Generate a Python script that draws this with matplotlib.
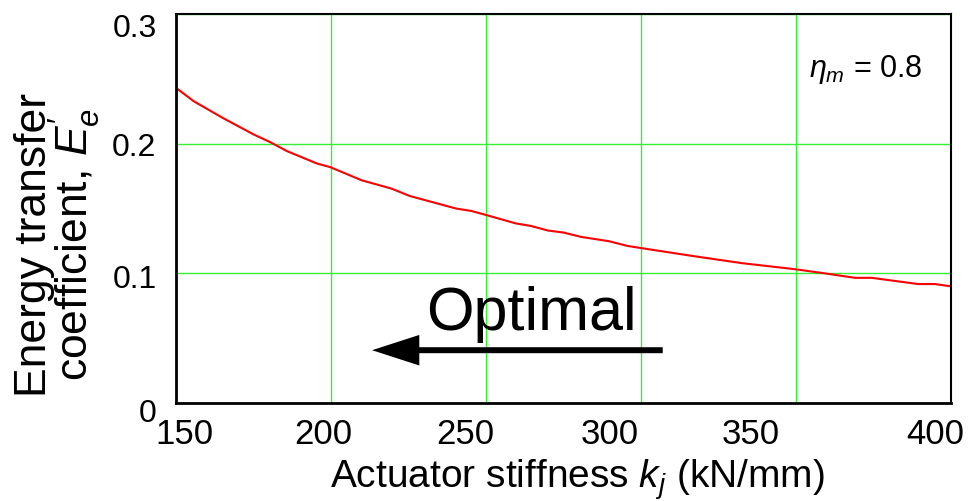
import numpy as np
import matplotlib.pyplot as plt
from matplotlib.transforms import ScaledTranslation

plt.rcParams['font.family'] = ['Liberation Sans', 'DejaVu Sans']
plt.rcParams['mathtext.fontset'] = 'custom'
plt.rcParams['mathtext.rm'] = 'Liberation Sans'
plt.rcParams['mathtext.it'] = 'Liberation Sans:italic'

# values
stiffness = [150.6, 155.7, 165.0, 175.0, 180.4, 185.8, 195.4, 199.7, 209.9, 219.5,
             225.4, 240.4, 245.2, 249.5, 259.7, 264.5, 269.9, 275.0, 280.6, 289.7,
             295.6, 299.6, 316.5, 332.6, 349.5, 359.4, 369.0, 374.4, 389.4, 394.8, 400.0]
energy = [0.242, 0.2328, 0.220, 0.2072, 0.2012, 0.1943, 0.1848, 0.182, 0.1718, 0.1654,
          0.1597, 0.150, 0.1482, 0.1454, 0.1385, 0.1366, 0.1331, 0.1315, 0.1282, 0.1248,
          0.1212, 0.1197, 0.1135, 0.1079, 0.1033, 0.100, 0.0966, 0.0966, 0.0918, 0.0918, 0.090]

x_ticks = [150, 200, 250, 300, 350, 400]
y_ticks = [0, 0.1, 0.2, 0.3]
y_tick_labels = ['0', '0.1', '0.2', '0.3']

# the tick labels in the original sit a bit off their grid lines (pixels)
x_label_shift = [8, -8, -21, -31, -45, -16]
y_label_shift = [-6, -2, 0, -10]

fig = plt.figure(figsize=(9.68, 5.02), dpi=100)
ax = fig.add_axes([0.1818, 0.195, 0.8007, 0.775])

ax.plot(stiffness, energy, color='#ff0000', lw=1.5)

ax.set_xlim(150, 400)
ax.set_ylim(0, 0.3)
ax.set_xticks(x_ticks)
ax.set_yticks(y_ticks)
ax.set_yticklabels(y_tick_labels)
ax.tick_params(length=0)
ax.tick_params(axis='y', labelsize=23, pad=14)
ax.tick_params(axis='x', labelsize=25, pad=10)
for lab, dx in zip(ax.get_xticklabels(), x_label_shift):
    lab.set_transform(lab.get_transform() + ScaledTranslation(dx / 100, 0, fig.dpi_scale_trans))
for lab, dy in zip(ax.get_yticklabels(), y_label_shift):
    lab.set_transform(lab.get_transform() + ScaledTranslation(0, dy / 100, fig.dpi_scale_trans))

ax.grid(color='#33f033', lw=1.0)
for s in ax.spines.values():
    s.set_color('black')
    s.set_linewidth(1.5)
ax.spines['left'].set_linewidth(2)
ax.spines['bottom'].set_linewidth(2)

ax.set_xlabel(r'Actuator stiffness $k_j$ (kN/mm)', fontsize=28)
ax.xaxis.set_label_coords(0.518, -0.137)
ax.set_ylabel("Energy transfer\ncoefficient, $E_e^{\\prime}$", fontsize=32,
              linespacing=0.83)
ax.yaxis.set_label_coords(-0.094, 0.409)

ax.text(0.963, 0.859, r'$\eta_m$ = 0.8', transform=ax.transAxes, fontsize=22,
        ha='right', va='center')

ax.text(0.459, 0.19, 'Optimal', transform=ax.transAxes, fontsize=44,
        ha='center', va='baseline')
ax.annotate('', xy=(0.253, 0.136), xytext=(0.628, 0.136), xycoords='axes fraction',
            arrowprops=dict(width=4.3, headwidth=22, headlength=34, shrink=0,
                            facecolor='black', edgecolor='black', lw=0))

fig.savefig('out.png', dpi=100)
